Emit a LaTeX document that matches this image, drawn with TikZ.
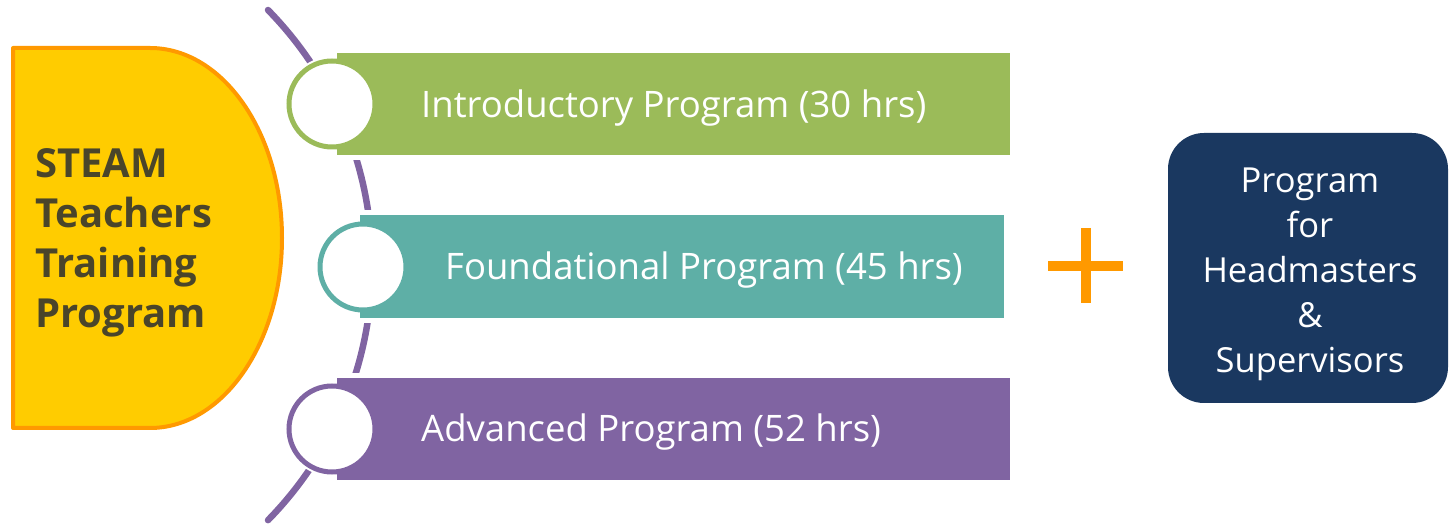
\documentclass[tikz,border=0pt]{standalone}
\usepackage{fontspec}
\setmainfont{Open Sans}
\definecolor{greenc}{HTML}{9BBB59}
\definecolor{tealc}{HTML}{5EAFA6}
\definecolor{purplec}{HTML}{8064A2}
\definecolor{goldc}{HTML}{FFCC00}
\definecolor{orangec}{HTML}{FF9900}
\definecolor{navyc}{HTML}{1A3860}
\definecolor{titlec}{HTML}{4A452A}
\begin{document}
\begin{tikzpicture}[x=1pt,y=1pt,
  bar/.style={rectangle, inner sep=0pt, draw=none,
    preaction={draw=white, line width=10pt}},
  ring/.style={circle, inner sep=0pt, minimum size=86pt, fill=white,
    line width=5pt},
  halo/.style={circle, inner sep=0pt, minimum size=95pt, fill=white},
  bartext/.style={anchor=base west, inner sep=0pt, text=white,
    font=\fontsize{36.5}{43}\selectfont},
  titletext/.style={anchor=north west, inner sep=0pt, align=left, text=titlec,
    font=\fontsize{40}{50}\selectfont\bfseries},
  sidebox/.style={rectangle, rounded corners=36pt, fill=navyc, text=white,
    align=center, inner sep=0pt, font=\fontsize{34.5}{45}\selectfont}]
\useasboundingbox (0,0) rectangle (1449,-526);

% purple arc behind the three program bars
\draw[purplec, line width=6.5pt, line cap=round]
  (268,-10) arc[start angle=44.4, end angle=-44.4, radius=364.6];

% half-disc holding the title
\filldraw[fill=goldc, draw=orangec, line width=4pt, line join=round]
  (13,-48) -- (150,-48)
  arc[start angle=90, end angle=-90, x radius=132, y radius=190]
  -- (13,-428) -- cycle;
\node[titletext] (title) at (35,-148) {STEAM\\Teachers\\Training\\Program};

% white gaps where the arc meets the rings
\node[halo] (halo1) at (332,-104) {};
\node[halo] (halo2) at (363,-267) {};
\node[halo] (halo3) at (332,-429) {};

% program bars
\node[bar, fill=greenc, minimum width=673pt, minimum height=102pt] (bar1) at (673.5,-104) {};
\node[bar, fill=tealc, minimum width=644pt, minimum height=103pt] (bar2) at (682,-266.5) {};
\node[bar, fill=purplec, minimum width=673pt, minimum height=102pt] (bar3) at (673.5,-429) {};

% rings at the bar ends
\node[ring, draw=greenc] (ring1) at (332,-104) {};
\node[ring, draw=tealc] (ring2) at (363,-267) {};
\node[ring, draw=purplec] (ring3) at (332,-429) {};

% bar labels
\node[bartext] (lab1) at (421,-118) {Introductory Program (30 hrs)};
\node[bartext] (lab2) at (445,-280) {Foundational Program (45 hrs)};
\node[bartext] (lab3) at (421,-442) {Advanced Program (52 hrs)};

% plus sign
\draw[orangec, line width=10pt] (1048,-266) -- (1123,-266) (1086,-228) -- (1086,-303);

% box on the right
\node[sidebox, minimum width=280pt, minimum height=270pt] (head) at (1308,-268) {};
\node[text=white, align=center, inner sep=0pt, font=\fontsize{34.5}{45}\selectfont]
  (headtext) at (1310,-274) {Program\\for\\Headmasters\\\&\\Supervisors};
\end{tikzpicture}
\end{document}
